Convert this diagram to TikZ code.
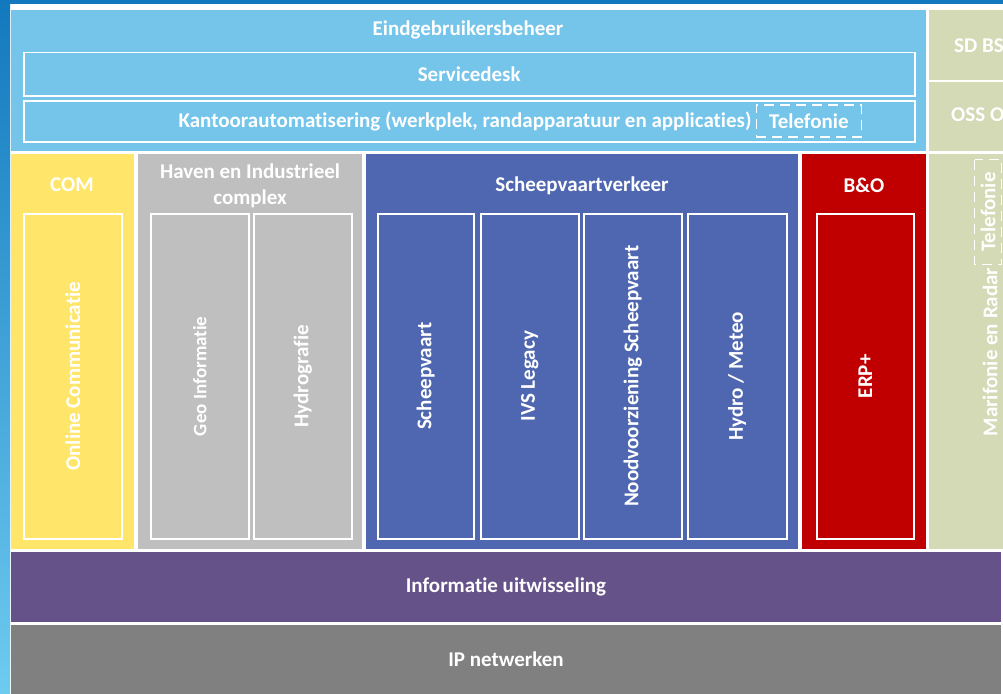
\documentclass[tikz,border=0pt]{standalone}
\usepackage{fontspec}
\setmainfont{Carlito}[Ligatures=NoCommon]
\usetikzlibrary{positioning}
\definecolor{lichtblauw}{HTML}{75C4EA}
\definecolor{olijf}{HTML}{D3DAB5}
\definecolor{geel}{HTML}{FFE66B}
\definecolor{lichtgrijs}{HTML}{BFBFBF}
\definecolor{blauw}{HTML}{4F67B1}
\definecolor{rood}{HTML}{C00000}
\definecolor{paars}{HTML}{655288}
\definecolor{donkergrijs}{HTML}{808080}
\definecolor{rand}{HTML}{1279BE}
\definecolor{randlicht}{HTML}{6ECBF0}
\tikzstyle{laag} = [rectangle, inner sep=0pt, anchor=north west, text=white, font=\fontsize{21}{24}\bfseries\selectfont]
\tikzstyle{blok} = [draw=white, line width=1.5pt, rectangle, inner sep=0pt, anchor=north west, text=white, font=\fontsize{21}{24}\bfseries\selectfont]
\tikzstyle{titel} = [text=white, inner sep=0pt, font=\fontsize{21}{26}\bfseries\selectfont]
\tikzstyle{streep} = [draw=white, line width=1.5pt, dash pattern=on 10pt off 6pt, inner sep=0pt, text=white, font=\fontsize{21}{24}\bfseries\selectfont]

\begin{document}
\begin{tikzpicture}[x=1pt,y=-1pt]
		\useasboundingbox (0,0) rectangle (1003,693);
		\clip (0,0) rectangle (1003,693);
		\fill[white] (0,0) rectangle (1003,693);
		\shade[top color=rand, bottom color=randlicht] (0,0) rectangle (10,693);
		\fill[rand] (0,0) rectangle (1003,4);
		% bovenste laag
		\node[laag, fill=lichtblauw, minimum width=915pt, minimum height=141pt](eind) at (11,10) {};
		\node[titel] (eindtitel) at (468,30) {Eindgebruikersbeheer};
		\node[blok, minimum width=891pt, minimum height=43pt](servicedesk) at (23,52) {Servicedesk};
		\node[blok, minimum width=891pt, minimum height=41pt](kantoor) at (23,100) {};
		\node[titel] (kantoortekst) at (465,121) {Kantoorautomatisering (werkplek, randapparatuur en applicaties)};
		\node[streep, minimum width=105pt, minimum height=32pt, right=4pt of kantoortekst] (telefonie) {Telefonie};
		\node[laag, fill=olijf, minimum width=80pt, minimum height=70pt](sdbs) at (929,10) {};
		\node[titel, anchor=west] (sdbstekst) at (954,46) {SD BS};
		\node[laag, fill=olijf, minimum width=80pt, minimum height=69pt](oss) at (929,82) {};
		\node[titel, anchor=west] (osstekst) at (951,115) {OSS O};
		% kolommen
		\node[laag, fill=geel, minimum width=123pt, minimum height=395pt](com) at (11,154) {};
		\node[titel] (comtitel) at (72,185) {COM};
		\node[blok, fill=geel, minimum width=98pt, minimum height=325pt](online) at (23,213) {\rotatebox{90}{Online Communicatie}};
		\node[laag, fill=lichtgrijs, minimum width=224pt, minimum height=395pt](haven) at (138,154) {};
		\node[titel, align=center] (haventitel) at (250,186) {Haven en Industrieel\\complex};
		\node[blok, minimum width=98pt, minimum height=325pt](geo) at (150,213) {\rotatebox{90}{\fontsize{19}{22}\bfseries\selectfont Geo Informatie}};
		\node[blok, minimum width=98pt, minimum height=325pt](hydro) at (253,213) {\rotatebox{90}{Hydrografie}};
		\node[laag, fill=blauw, minimum width=432pt, minimum height=395pt](scheep) at (366,154) {};
		\node[titel] (scheeptitel) at (582,186) {Scheepvaartverkeer};
		\node[blok, minimum width=96pt, minimum height=325pt](scheepvaart) at (377,213) {\rotatebox{90}{Scheepvaart}};
		\node[blok, minimum width=98pt, minimum height=325pt](ivs) at (480,213) {\rotatebox{90}{IVS Legacy}};
		\node[blok, minimum width=98pt, minimum height=325pt](nood) at (583,213) {\rotatebox{90}{Noodvoorziening Scheepvaart}};
		\node[blok, minimum width=99pt, minimum height=325pt](meteo) at (687,213) {\rotatebox{90}{Hydro / Meteo}};
		\node[laag, fill=rood, minimum width=124pt, minimum height=395pt](beo) at (802,154) {};
		\node[titel] (beotitel) at (864,185) {B\&O};
		\node[blok, minimum width=97pt, minimum height=325pt](erp) at (816,213) {\rotatebox{90}{ERP+}};
		\node[laag, fill=olijf, minimum width=80pt, minimum height=395pt](mari) at (929,154) {};
		\node[titel, rotate=90] (maritekst) at (990,352) {Marifonie en Radar};
		\node[streep, rotate=90, minimum width=105pt, minimum height=27pt] (telefonie2) at (988,212) {Telefonie};
		% onderste lagen
		\node[laag, fill=paars, minimum width=990pt, minimum height=70pt](info) at (11,552) {};
		\node[titel] (infotekst) at (506,587) {Informatie uitwisseling};
		\node[laag, fill=donkergrijs, minimum width=990pt, minimum height=70pt](ip) at (11,625) {};
		\node[titel] (iptekst) at (506,659) {IP netwerken};
	\end{tikzpicture}
\end{document}
